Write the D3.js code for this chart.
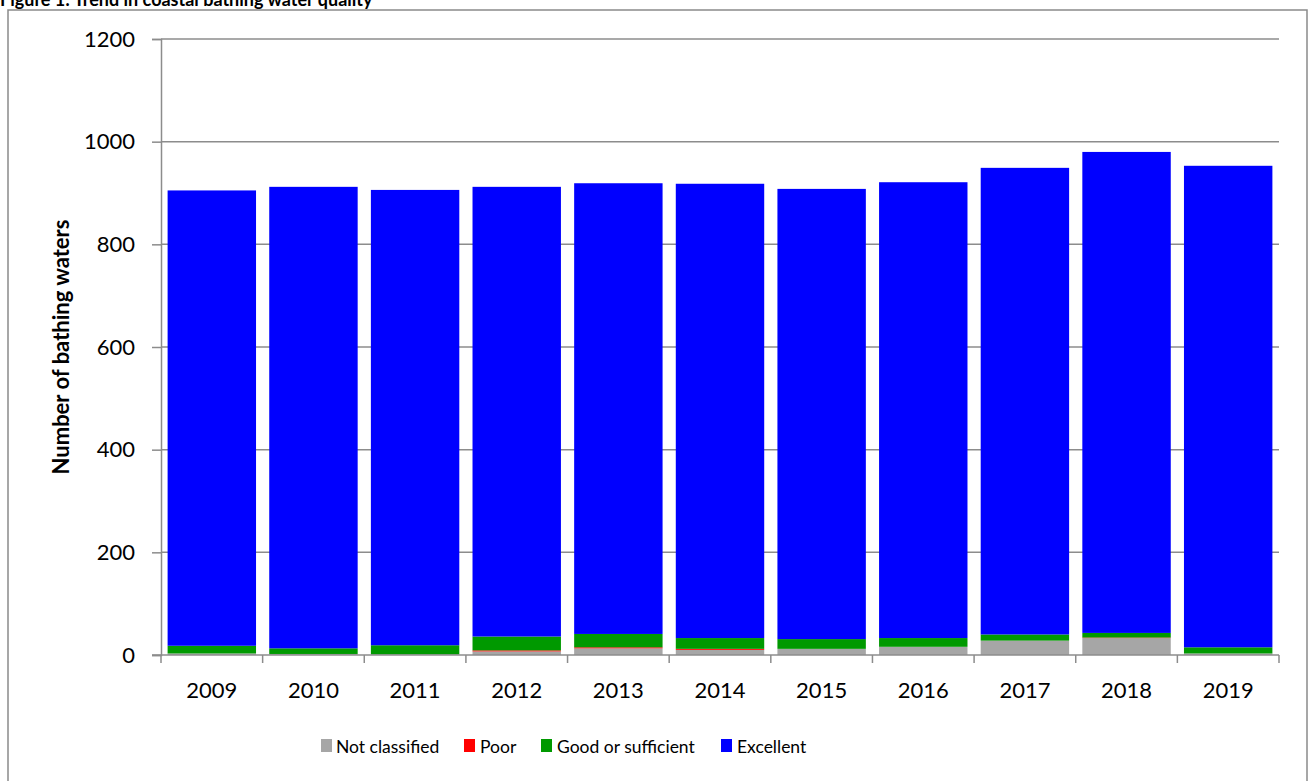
<!DOCTYPE html>
<html>
<head>
<meta charset="utf-8">
<script src="https://cdn.jsdelivr.net/npm/d3@7"></script>
<style>
  html, body { margin: 0; padding: 0; background: #fff; }
  svg { display: block; font-family: Lato, "Open Sans", sans-serif; }
</style>
</head>
<body>
<svg id="chart" width="1309" height="781"></svg>
<script>
const years = ["2009","2010","2011","2012","2013","2014","2015","2016","2017","2018","2019"];
const notClassified = [3, 2, 1, 7, 13, 10, 12, 16, 28, 33, 3];
const poor          = [0, 0, 0, 2, 2, 2, 0, 0, 0, 1, 0];
const goodSufficient= [15, 11, 18, 27, 26, 21, 19, 17, 12, 9, 12];
const excellent     = [887, 899, 887, 876, 878, 885, 877, 888, 909, 937, 938];
const yTicks = [0, 200, 400, 600, 800, 1000, 1200];
const seriesNames = ["Not classified", "Poor", "Good or sufficient", "Excellent"];
const seriesColors = ["#a6a6a6", "#ff0000", "#009900", "#0000ff"];

const svg = d3.select("#chart");
const pLeft = 161, pRight = 1279, pTop = 39, pBottom = 655;

// frame
svg.append("rect").attr("x", 8).attr("y", 10).attr("width", 1299).attr("height", 800)
  .attr("fill", "none").attr("stroke", "#8a8a8a").attr("stroke-width", 1.5);

// title (partly above the top edge, as in the reference)
svg.append("text").attr("x", 0).attr("y", 6)
  .attr("font-weight", "bold").attr("font-size", 18).attr("fill", "#000")
  .text("Figure 1: Trend in coastal bathing water quality");

const x = d3.scaleBand().domain(years).range([pLeft, pRight]).paddingInner(0.13).paddingOuter(0.065);
const y = d3.scaleLinear().domain([0, 1200]).range([pBottom, pTop]);

// gridlines
svg.append("g").selectAll("line").data(yTicks.filter(d => d > 0)).join("line")
  .attr("x1", pLeft).attr("x2", pRight).attr("y1", d => y(d)).attr("y2", d => y(d))
  .attr("stroke", "#8c8c8c").attr("stroke-width", 1.5);

// stacked data
const table = years.map((yr, i) => ({
  year: yr,
  "Not classified": notClassified[i],
  "Poor": poor[i],
  "Good or sufficient": goodSufficient[i],
  "Excellent": excellent[i]
}));
const stack = d3.stack().keys(seriesNames)(table);

svg.append("g").selectAll("g").data(stack).join("g")
  .attr("fill", (d, i) => seriesColors[i])
  .selectAll("rect").data(d => d).join("rect")
  .attr("x", d => x(d.data.year))
  .attr("width", x.bandwidth())
  .attr("y", d => y(d[1]))
  .attr("height", d => y(d[0]) - y(d[1]));

// y axis
const yAxis = svg.append("g").attr("transform", `translate(${pLeft},0)`)
  .call(d3.axisLeft(y).tickValues(yTicks).tickSize(9).tickPadding(17).tickFormat(d3.format("d")));
yAxis.select(".domain").attr("stroke", "#8c8c8c").attr("stroke-width", 1.5);
yAxis.selectAll(".tick line").attr("stroke", "#8c8c8c").attr("stroke-width", 1.5);
yAxis.selectAll(".tick text").attr("font-size", 22).attr("fill", "#000")
  .attr("font-family", "Lato, 'Open Sans', sans-serif");

// x axis line and ticks at band boundaries
const gx = svg.append("g");
gx.append("line").attr("x1", pLeft - 9).attr("x2", pRight).attr("y1", pBottom).attr("y2", pBottom)
  .attr("stroke", "#8c8c8c").attr("stroke-width", 1.5);
const boundaries = d3.range(years.length + 1).map(i => pLeft + i * (pRight - pLeft) / years.length);
gx.selectAll("line.tk").data(boundaries).join("line").attr("class", "tk")
  .attr("x1", d => d).attr("x2", d => d).attr("y1", pBottom).attr("y2", pBottom + 8)
  .attr("stroke", "#8c8c8c").attr("stroke-width", 1.5);
gx.selectAll("text").data(years).join("text")
  .attr("x", d => x(d) + x.bandwidth() / 2).attr("y", 698)
  .attr("text-anchor", "middle").attr("font-size", 22).attr("fill", "#000")
  .text(d => d);

// y axis title
svg.append("text")
  .attr("transform", `translate(69, ${(pTop + pBottom) / 2}) rotate(-90)`)
  .attr("text-anchor", "middle").attr("font-weight", "bold").attr("font-size", 22)
  .text("Number of bathing waters");

// legend
const legendItems = [
  { name: "Not classified", color: seriesColors[0], sx: 321, tx: 336 },
  { name: "Poor", color: seriesColors[1], sx: 464, tx: 480 },
  { name: "Good or sufficient", color: seriesColors[2], sx: 541, tx: 557 },
  { name: "Excellent", color: seriesColors[3], sx: 721, tx: 737 }
];
const lg = svg.append("g");
lg.selectAll("rect").data(legendItems).join("rect")
  .attr("x", d => d.sx).attr("y", 739).attr("width", 11).attr("height", 13)
  .attr("fill", d => d.color);
lg.selectAll("text").data(legendItems).join("text")
  .attr("x", d => d.tx).attr("y", 753).attr("font-size", 17.5).attr("fill", "#000")
  .text(d => d.name);
</script>
</body>
</html>
